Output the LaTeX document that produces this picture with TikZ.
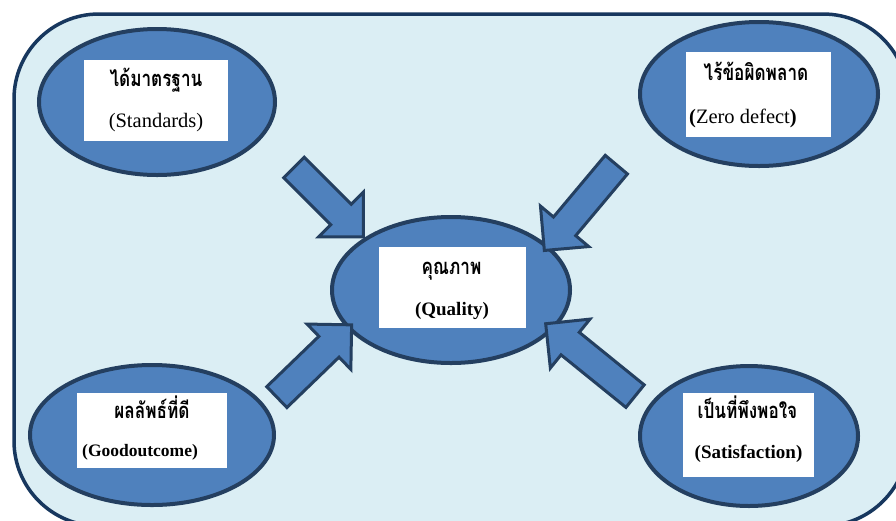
\documentclass[tikz,border=0pt]{standalone}
\usepackage{graphicx}
\usepackage{fontspec}
\setmainfont{Liberation Serif}
\newfontfamily\thaifont[Script=Thai]{Loma}
\usetikzlibrary{shapes.geometric,shapes.arrows}
\definecolor{bgfill}{HTML}{DBEEF4}
\definecolor{bgline}{HTML}{17375E}
\definecolor{elfill}{HTML}{4F81BD}
\definecolor{elline}{HTML}{243F60}
\newcommand{\thtext}[1]{\scalebox{0.78}[1]{#1}}
\begin{document}
\begin{tikzpicture}[x=1pt,y=-1pt,
  oval/.style={ellipse, fill=elfill, draw=elline, line width=4pt, inner sep=0pt},
  whitebox/.style={fill=white, inner sep=0pt},
  blockarrow/.style={single arrow, fill=elfill, draw=elline, line width=3pt,
    inner xsep=0pt, inner ysep=13pt, single arrow head extend=17pt,
    single arrow head indent=0pt},
  thlabel/.style={font=\thaifont\bfseries\fontsize{22}{24}\selectfont, anchor=base, inner sep=0pt},
  enlabel/.style={font=\fontsize{20.5}{23}\selectfont, anchor=base, inner sep=0pt},
  enbold/.style={font=\bfseries\fontsize{19}{21}\selectfont, anchor=base, inner sep=0pt}
]
\useasboundingbox (0,0) rectangle (896,520);
\clip (0,0) rectangle (896,520);
\draw[fill=bgfill, draw=bgline, line width=3.5pt, rounded corners=85pt] (14,14) rectangle (908,526);

% ellipses
\node[oval, minimum width=236pt, minimum height=146pt] (std) at (157,102) {};
\node[oval, minimum width=238pt, minimum height=144pt] (zero) at (759,94) {};
\node[oval, minimum width=238pt, minimum height=146pt] (qual) at (451,290) {};
\node[oval, minimum width=244pt, minimum height=140pt] (good) at (152,435) {};
\node[oval, minimum width=218pt, minimum height=140pt] (sat) at (749,436) {};

% white boxes
\node[whitebox, minimum width=144pt, minimum height=81pt] (stdbox) at (156,100.5) {};
\node[whitebox, minimum width=145pt, minimum height=85pt] (zerobox) at (758.5,94.5) {};
\node[whitebox, minimum width=147pt, minimum height=81pt] (qualbox) at (452.5,287.5) {};
\node[whitebox, minimum width=150pt, minimum height=75pt] (goodbox) at (152,430.5) {};
\node[whitebox, minimum width=131pt, minimum height=84pt] (satbox) at (748.5,435) {};

% texts
\node[thlabel] (stdth) at (156,86.5) {\thtext{ได้มาตรฐาน}};
\node[enlabel] (stden) at (156,127) {(Standards)};
\node[thlabel] (zeroth) at (756,80) {\thtext{ไร้ข้อผิดพลาด}};
\node[enlabel, anchor=base west] (zeroen) at (689,123) {\textbf{(}Zero defect\textbf{)}};
\node[thlabel] (qualth) at (451.5,274) {\thtext{คุณภาพ}};
\node[enbold] (qualen) at (452,315) {(Quality)};
\node[thlabel] (goodth) at (152,418) {\thtext{ผลลัพธ์ที่ดี}};
\node[enbold, anchor=base west, font=\bfseries\fontsize{17.5}{20}\selectfont] (gooden) at (82,456) {(Goodoutcome)};
\node[thlabel] (satth) at (747.5,418) {\thtext{เป็นที่พึงพอใจ}};
\node[enbold] (saten) at (748.5,458) {(Satisfaction)};

% block arrows
\node[blockarrow, minimum height=98pt, rotate=-45] (a1) at (323.5,197) {};
\node[blockarrow, minimum height=112pt, rotate=-130] (a2) at (585,202) {};
\node[blockarrow, minimum height=104pt, rotate=44] (a3) at (309,366) {};
\node[blockarrow, minimum height=115pt, rotate=141] (a4) at (596,364.5) {};
\end{tikzpicture}
\end{document}
